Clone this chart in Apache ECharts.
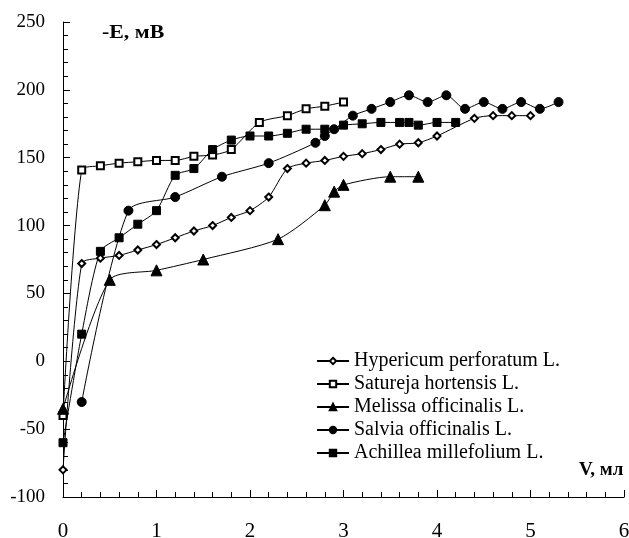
<!DOCTYPE html>
<html><head><meta charset="utf-8">
<script src="https://cdn.jsdelivr.net/npm/echarts@6/dist/echarts.min.js"></script>
<style>html,body{margin:0;padding:0;background:#fff}#c{width:629px;height:538px}</style>
</head><body><div id="c"></div>
<script>
const seriesNames = ["Hypericum perforatum L.", "Satureja hortensis L.", "Melissa officinalis L.", "Salvia officinalis L.", "Achillea millefolium L."];
const hypericumV = [0, 0.2, 0.4, 0.6, 0.8, 1.0, 1.2, 1.4, 1.6, 1.8, 2.0, 2.2, 2.4, 2.6, 2.8, 3.0, 3.2, 3.4, 3.6, 3.8, 4.0, 4.4, 4.6, 4.8, 5.0];
const hypericumE = [-80, 72, 76, 78, 82, 86, 91, 96, 100, 106, 111, 121, 142, 146, 148, 151, 153, 156, 160, 161, 166, 179, 181, 181, 181];
const saturejaV = [0, 0.2, 0.4, 0.6, 0.8, 1.0, 1.2, 1.4, 1.6, 1.8, 2.1, 2.4, 2.6, 2.8, 3.0];
const saturejaE = [-40, 141, 144, 146, 147, 148, 148, 151, 152, 156, 176, 181, 186, 188, 191];
const melissaV = [0, 0.5, 1.0, 1.5, 2.3, 2.8, 2.9, 3.0, 3.5, 3.8];
const melissaE = [-35, 60, 67, 75, 90, 115, 125, 130, 136, 136];
const salviaV = [0.2, 0.7, 1.2, 1.7, 2.2, 2.7, 2.8, 2.9, 3.1, 3.3, 3.5, 3.7, 3.9, 4.1, 4.3, 4.5, 4.7, 4.9, 5.1, 5.3];
const salviaE = [-30, 111, 121, 136, 146, 161, 166, 171, 181, 186, 191, 196, 191, 196, 186, 191, 186, 191, 186, 191];
const achilleaV = [0, 0.2, 0.4, 0.6, 0.8, 1.0, 1.2, 1.4, 1.6, 1.8, 2.0, 2.2, 2.4, 2.6, 2.8, 3.0, 3.2, 3.4, 3.6, 3.7, 3.8, 4.0, 4.2];
const achilleaE = [-60, 20, 81, 91, 101, 111, 137, 142, 156, 163, 166, 166, 168, 171, 171, 174, 175, 176, 176, 176, 174, 176, 176];
const xTicks = [0, 1, 2, 3, 4, 5, 6];
const yTicks = [-100, -50, 0, 50, 100, 150, 200, 250];

const pairs = (xs, ys) => xs.map((x, i) => [x, ys[i]]);
const FONT = '"Liberation Serif", "Times New Roman", serif';
const mk = (name, xs, ys, symbol, size) => ({
  name, type: 'line', data: pairs(xs, ys), symbol, symbolSize: size, smooth: 0.25,
  lineStyle: { color: '#000', width: 1 },
  itemStyle: { color: '#000', borderColor: '#000', borderWidth: 1 },
  emphasis: { disabled: true }, animation: false
});

const chart = echarts.init(document.getElementById('c'));
chart.setOption({
  backgroundColor: '#fff',
  animation: false,
  grid: { left: 63, top: 22, right: 5, bottom: 41, containLabel: false, outerBoundsMode: 'none' },
  xAxis: {
    type: 'value', min: xTicks[0], max: xTicks[xTicks.length - 1], interval: 1,
    axisLine: { onZero: false, lineStyle: { color: '#000', width: 1 } },
    axisTick: { inside: true, length: 7, lineStyle: { color: '#000' } },
    minorTick: { show: true, splitNumber: 5, length: 5, lineStyle: { color: '#000' } },
    splitLine: { show: false },
    axisLabel: { color: '#000', fontFamily: FONT, fontSize: 21, margin: 24 }
  },
  yAxis: {
    type: 'value', min: yTicks[0], max: yTicks[yTicks.length - 1], interval: 50,
    axisLine: { show: true, onZero: false, lineStyle: { color: '#000', width: 1 } },
    axisTick: { show: true, inside: true, length: 7, lineStyle: { color: '#000' } },
    minorTick: { show: true, splitNumber: 5, length: 5, lineStyle: { color: '#000' } },
    splitLine: { show: false },
    axisLabel: { color: '#000', fontFamily: FONT, fontSize: 19, margin: 18 }
  },
  legend: {
    orient: 'vertical', left: 311, top: 346, itemWidth: 32, itemHeight: 8, itemGap: 3,
    textStyle: { color: '#000', fontFamily: FONT, fontSize: 20 },
    data: seriesNames
  },
  graphic: [
    { type: 'text', x: 102, y: 24, scaleX: 1.15, style: { text: '-E, мВ', font: 'bold 19px ' + FONT, fill: '#000' } },
    { type: 'text', x: 579, y: 461, style: { text: 'V, мл', font: 'bold 19px ' + FONT, fill: '#000' } }
  ],
  series: [
    mk(seriesNames[0], hypericumV, hypericumE, 'emptyDiamond', 7),
    mk(seriesNames[1], saturejaV, saturejaE, 'emptyRect', 7),
    mk(seriesNames[2], melissaV, melissaE, 'triangle', 11),
    mk(seriesNames[3], salviaV, salviaE, 'circle', 9),
    mk(seriesNames[4], achilleaV, achilleaE, 'rect', 8)
  ]
});
</script></body></html>
